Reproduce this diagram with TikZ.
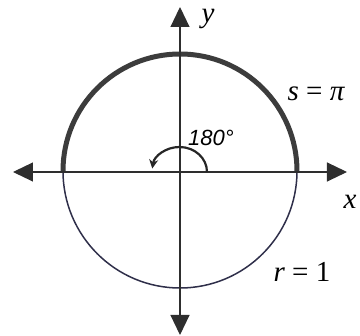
\documentclass[tikz,border=0pt]{standalone}
\usepackage{fontspec}
\setmainfont{Liberation Serif}
\newfontfamily\timesfont{Liberation Serif}
\newfontfamily\handfont{Liberation Sans}
\usetikzlibrary{arrows.meta}
\definecolor{axiscol}{HTML}{2E2E2E}
\definecolor{circcol}{HTML}{2F2F4A}
\definecolor{arccol}{HTML}{3C3C3C}
\begin{document}
\begin{tikzpicture}[x=1pt,y=-1pt,
  bigtip/.tip={Triangle[length=20pt,width=19pt]},
  axisline/.style={line width=1.1pt, draw=axiscol, fill=axiscol, {bigtip}-{bigtip}},
  thincirc/.style={line width=1.5pt, draw=circcol},
  thickarc/.style={line width=5pt, draw=arccol},
  anglearrow/.style={line width=2.2pt, draw=black!85, -{Stealth[length=9pt,width=9pt]}},
  mathlabel/.style={font=\timesfont\fontsize{29}{32}\selectfont, inner sep=0pt},
  handlabel/.style={font=\handfont\itshape\fontsize{22}{24}\selectfont, inner sep=0pt}]
\useasboundingbox (0,0) rectangle (360,336);
\coordinate (O) at (180,171);
\coordinate (L) at (13,172);
\coordinate (R) at (347,172);
\coordinate (T) at (180,7);
\coordinate (B) at (180,335);
\coordinate (A1) at (207,172);
% circle
\draw[thincirc] (O) circle[radius=117];
\draw[thickarc] (O) ++(117,0) arc[start angle=0,end angle=-180,radius=117];
% axes
\draw[axisline] (L) -- (R);
\draw[axisline] (B) -- (T);
% angle arrow
\draw[anglearrow] (A1) arc[start angle=0,end angle=-172,x radius=27.5,y radius=25];
% labels
\node[mathlabel] (ylab) at (208,19) {\itshape y};
\node[mathlabel] (xlab) at (350,202) {\itshape x};
\node[mathlabel] (slab) at (316,94) {\itshape s\upshape\ = \itshape π};
\node[mathlabel] (rlab) at (302,272) {\itshape r\upshape\ = 1};
\node[handlabel] (deg) at (211,138) {180°};
\end{tikzpicture}
\end{document}
